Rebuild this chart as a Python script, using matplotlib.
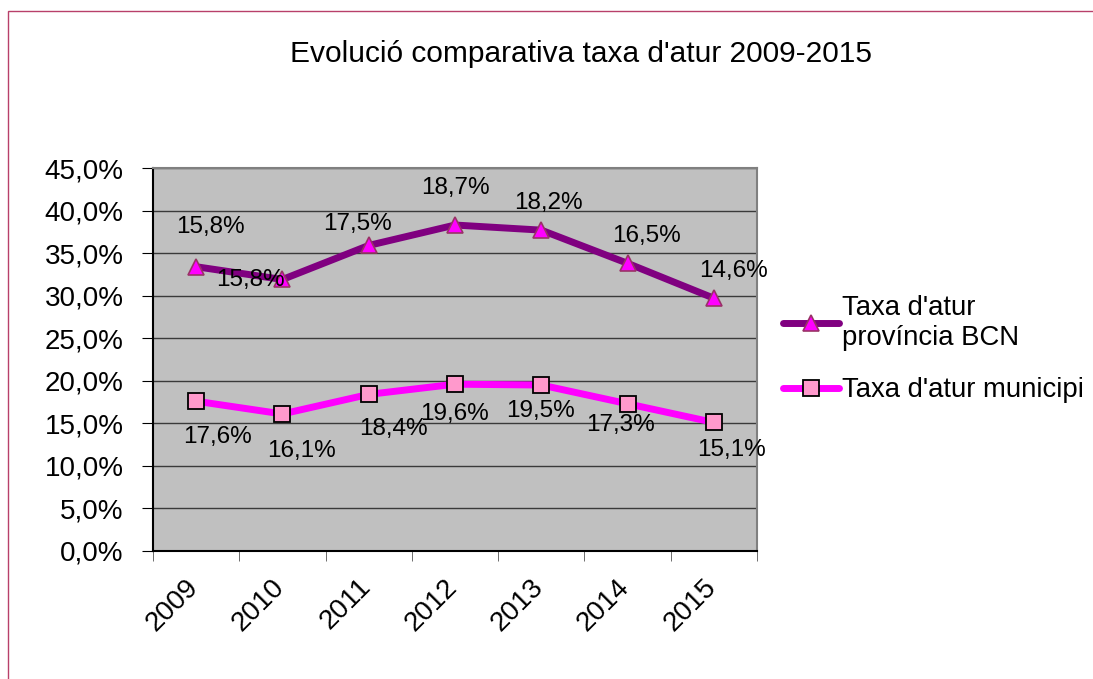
import matplotlib
matplotlib.use("Agg")
import matplotlib.pyplot as plt
from matplotlib.patches import Rectangle
from matplotlib.ticker import FixedLocator, FuncFormatter
from matplotlib.transforms import ScaledTranslation
import numpy as np

plt.rcParams["font.family"] = ["Liberation Sans", "DejaVu Sans"]

# data (unemployment rate, %)
years = ["2009", "2010", "2011", "2012", "2013", "2014", "2015"]
taxa_municipi = [17.6, 16.1, 18.4, 19.6, 19.5, 17.3, 15.1]
taxa_provincia = [15.8, 15.8, 17.5, 18.7, 18.2, 16.5, 14.6]

title = "Evolució comparativa taxa d'atur 2009-2015"
label_prov = "Taxa d'atur\nprovíncia BCN"
label_muni = "Taxa d'atur municipi"

# data label offsets in pixels (hand placed in the original)
off_prov = [(14, 40), (-32, -1), (-11, 21), (0, 37), (7, 27), (19, 27), (20, 27)]
off_muni = [(21, -36), (19, -37), (25, -35), (0, -30), (-1, -26), (-7, -21), (18, -28)]

# the original is a stacked line chart: province series sits on top of municipi
muni = np.array(taxa_municipi)
prov_stacked = muni + np.array(taxa_provincia)
x = np.arange(len(years))


def pct(v):
    return f"{v:.1f}%".replace(".", ",")


fig = plt.figure(figsize=(10.93, 6.79), dpi=100)
fig.patches.append(Rectangle((8 / 1093, -0.1), 1.2, (668 / 679) + 0.1,
                             transform=fig.transFigure, fill=False,
                             edgecolor="#b8406a", linewidth=1.0))

ax = fig.add_axes([153 / 1093, 128 / 679, 604 / 1093, 383 / 679])
ax.set_facecolor("#c0c0c0")

ax.plot(x, prov_stacked, color="#800080", lw=5, marker="^", ms=12,
        mfc="#ff00ff", mec="#993366", mew=1.2, label=label_prov, zorder=3,
        solid_capstyle="round")
ax.plot(x, muni, color="#ff00ff", lw=5, marker="s", ms=11,
        mfc="#ff99cc", mec="black", mew=1.3, label=label_muni, zorder=3,
        solid_capstyle="round")

for i in range(len(years)):
    ax.annotate(pct(taxa_provincia[i]), (x[i], prov_stacked[i]),
                xytext=off_prov[i], textcoords="offset pixels",
                ha="center", va="center", fontsize=17.5, zorder=4)
    ax.annotate(pct(taxa_municipi[i]), (x[i], muni[i]),
                xytext=off_muni[i], textcoords="offset pixels",
                ha="center", va="center", fontsize=17.5, zorder=4)

ax.set_xlim(-0.5, len(years) - 0.5)
ax.set_ylim(0, 45)
ax.yaxis.set_major_locator(FixedLocator(np.arange(0, 46, 5)))
ax.yaxis.set_major_formatter(FuncFormatter(lambda v, p: pct(v)))
ax.grid(axis="y", color="#3a3a3a", lw=1.0)
ax.set_axisbelow(True)

# category labels, rotated, drawn as texts so they can be nudged
ax.set_xticks(x)
ax.set_xticklabels([])
lab_trans = ax.get_xaxis_transform() + ScaledTranslation(-11 / 100, -23 / 100, fig.dpi_scale_trans)
for i, yr in enumerate(years):
    ax.text(x[i], 0, yr, transform=lab_trans, rotation=45, ha="right", va="top",
            rotation_mode="anchor", fontsize=20)
ax.set_xticks(np.arange(-0.5, len(years)), minor=True)
ax.tick_params(axis="x", which="major", length=0)
ax.tick_params(axis="x", which="minor", length=7, color="#555555", direction="out")
ax.tick_params(axis="y", length=8, direction="out", labelsize=20, pad=13)

for side in ("top", "right"):
    ax.spines[side].set_color("#808080")
    ax.spines[side].set_linewidth(1.5)
for side in ("left", "bottom"):
    ax.spines[side].set_color("black")
    ax.spines[side].set_linewidth(1.5)

fig.text(581 / 1093, 1 - 54 / 679, title, ha="center", va="center", fontsize=21.5)

leg = ax.legend(loc="upper left", bbox_to_anchor=(772 / 1093, 1 - 284 / 679),
                bbox_transform=fig.transFigure, frameon=False, fontsize=19.8,
                handlelength=2.05, handletextpad=0.1, labelspacing=0.95,
                borderaxespad=0)

fig.savefig("out.png", dpi=100)
